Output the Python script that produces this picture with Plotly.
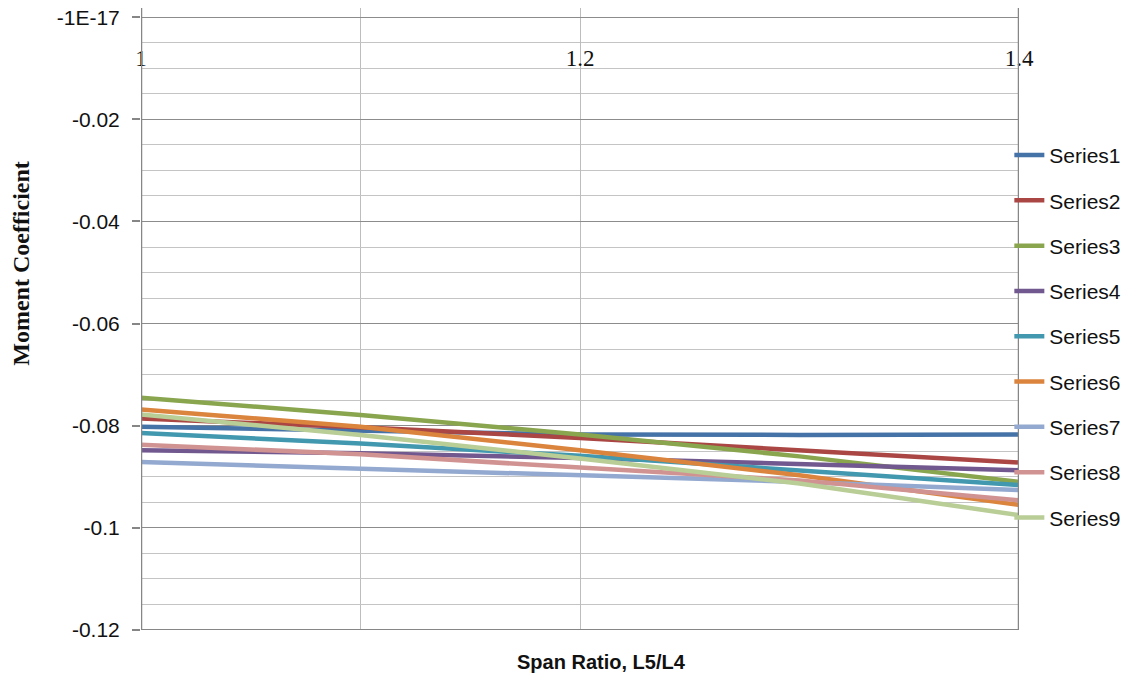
import plotly.graph_objects as go

span_ratio = [1.0, 1.1, 1.2, 1.3, 1.4]

series1 = [-0.0802, -0.0809, -0.0817, -0.0818, -0.0817]
series2 = [-0.0786, -0.0803, -0.0824, -0.0848, -0.0872]
series3 = [-0.0745, -0.0779, -0.0817, -0.0860, -0.0910]
series4 = [-0.0848, -0.0854, -0.0863, -0.0874, -0.0887]
series5 = [-0.0814, -0.0835, -0.0859, -0.0887, -0.0916]
series6 = [-0.0768, -0.0802, -0.0848, -0.0897, -0.0955]
series7 = [-0.0871, -0.0884, -0.0895, -0.0910, -0.0926]
series8 = [-0.0837, -0.0856, -0.0882, -0.0907, -0.0946]
series9 = [-0.0778, -0.0818, -0.0864, -0.0913, -0.0975]

series_names = ["Series1", "Series2", "Series3", "Series4", "Series5",
                "Series6", "Series7", "Series8", "Series9"]
series_values = [series1, series2, series3, series4, series5,
                 series6, series7, series8, series9]
colors = ["#4572A7", "#AA4643", "#89A54E", "#71588F", "#4198AF",
          "#DB843D", "#93A9CF", "#D19392", "#B9CD96"]

x_tickvals = [1.0, 1.2, 1.4]
x_ticktext = ["1", "1.2", "1.4"]
y_tickvals = [0, -0.02, -0.04, -0.06, -0.08, -0.1, -0.12]
y_ticktext = ["-1E-17", "-0.02", "-0.04", "-0.06", "-0.08", "-0.1", "-0.12"]

fig = go.Figure()
for name, vals, col in zip(series_names, series_values, colors):
    fig.add_trace(go.Scatter(
        x=span_ratio, y=vals, name=name, mode="lines",
        legendgroup=name,
        line=dict(color=col, width=4.5),
    ))

fig.update_layout(
    width=1134, height=679,
    margin=dict(l=141, r=115, t=8, b=49, autoexpand=False),
    paper_bgcolor="white", plot_bgcolor="white",
    showlegend=True,
    legend=dict(
        x=0.989, xanchor="left", y=0.796, yanchor="top",
        font=dict(family="Liberation Sans", size=21, color="#111111"),
        tracegroupgap=15, bgcolor="rgba(0,0,0,0)",
    ),
    xaxis=dict(
        range=[1.0, 1.4], side="top", automargin=False,
        tickmode="array", tickvals=x_tickvals, ticktext=x_ticktext,
        ticklabelposition="inside", ticks="", ticklabelstandoff=39,
        ticklabeloverflow="allow",
        tickfont=dict(family="Liberation Serif", size=23, color="#111111"),
        showgrid=True, gridcolor="#BDBDBD", gridwidth=1,
        minor=dict(tickvals=[1.1], showgrid=True, gridcolor="#BDBDBD", gridwidth=1, ticks=""),
        showline=False, zeroline=False,
    ),
    yaxis=dict(
        range=[-0.12, 0.0018], automargin=False,
        tickmode="array", tickvals=y_tickvals, ticktext=y_ticktext,
        ticks="outside", ticklen=8, tickcolor="#868686", tickwidth=1.5,
        ticklabelstandoff=8, ticklabeloverflow="allow",
        tickfont=dict(family="Liberation Sans", size=21, color="#111111"),
        showgrid=True, gridcolor="#8C8C8C", gridwidth=1.2,
        minor=dict(tickmode="linear", tick0=0, dtick=0.005, showgrid=True,
                   gridcolor="#C4C4C4", gridwidth=1, ticks=""),
        showline=False, zeroline=False,
    ),
    shapes=[
        dict(type="line", xref="x", yref="paper", x0=1.0, x1=1.0, y0=0, y1=1,
             line=dict(color="#868686", width=2.5)),
        dict(type="line", xref="x", yref="paper", x0=1.4, x1=1.4, y0=0, y1=1,
             line=dict(color="#868686", width=2.5)),
        dict(type="line", xref="x", yref="y", x0=1.0, x1=1.4, y0=-0.12, y1=-0.12,
             line=dict(color="#868686", width=2)),
    ],
    annotations=[
        dict(text="<b>Moment Coefficient</b>", textangle=-90,
             xref="paper", yref="paper", x=-0.137, y=0.59,
             xanchor="center", yanchor="middle", showarrow=False,
             font=dict(family="Liberation Serif", size=24, color="#111111")),
        dict(text="<b>Span Ratio, L5/L4</b>",
             xref="paper", yref="paper", x=0.524, y=-0.0514,
             xanchor="center", yanchor="middle", showarrow=False,
             font=dict(family="Liberation Sans Narrow, Liberation Sans", size=20, color="#111111")),
    ],
)

fig.write_html("out.html", config={"displayModeBar": False},
               post_script="document.body.style.margin='0px';")
